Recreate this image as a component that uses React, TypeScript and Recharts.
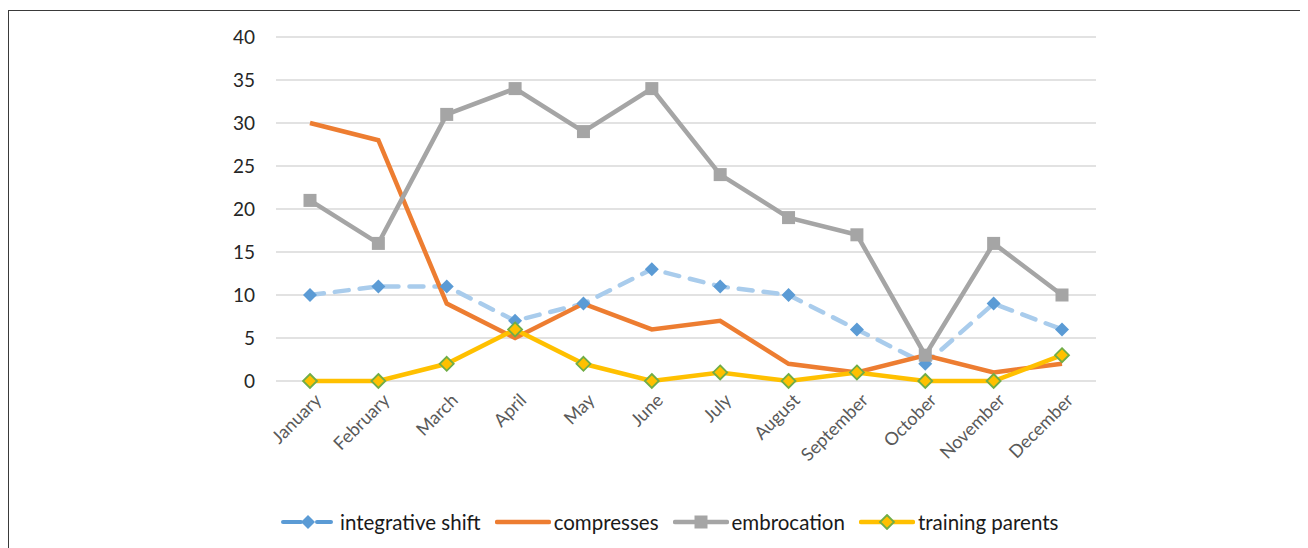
import React from "react";
import { CartesianGrid, Line, LineChart, XAxis, YAxis } from "recharts";

const months = [
  "January", "February", "March", "April", "May", "June",
  "July", "August", "September", "October", "November", "December",
];
const integrativeShift = [10, 11, 11, 7, 9, 13, 11, 10, 6, 2, 9, 6];
const compresses = [30, 28, 9, 5, 9, 6, 7, 2, 1, 3, 1, 2];
const embrocation = [21, 16, 31, 34, 29, 34, 24, 19, 17, 3, 16, 10];
const trainingParents = [0, 0, 2, 6, 2, 0, 1, 0, 1, 0, 0, 3];
const yTicks = [0, 5, 10, 15, 20, 25, 30, 35, 40];

const rows = months.map((m, i) => ({
  month: m,
  "integrative shift": integrativeShift[i],
  compresses: compresses[i],
  embrocation: embrocation[i],
  "training parents": trainingParents[i],
}));

const FONT = "Lato, 'Noto Sans', sans-serif";
const BLUE_LINE = "#A9CCEC";
const BLUE = "#5B9BD5";
const ORANGE = "#ED7D31";
const GREY = "#A5A5A5";
const YELLOW = "#FFC000";
const GREEN = "#70AD47";

const diamond = (cx: number, cy: number, r: number) =>
  `M${cx},${cy - r}L${cx + r},${cy}L${cx},${cy + r}L${cx - r},${cy}Z`;

function BlueDot(props: any) {
  const { cx, cy, index } = props;
  if (cx == null || cy == null) return <g key={`b${index}`} />;
  return <path key={`b${index}`} d={diamond(cx, cy, 7)} fill={BLUE} />;
}
function GreyDot(props: any) {
  const { cx, cy, index } = props;
  if (cx == null || cy == null) return <g key={`g${index}`} />;
  return <rect key={`g${index}`} x={cx - 6.5} y={cy - 6.5} width={13} height={13} fill={GREY} />;
}
function YellowDot(props: any) {
  const { cx, cy, index } = props;
  if (cx == null || cy == null) return <g key={`y${index}`} />;
  return <path key={`y${index}`} d={diamond(cx, cy, 7)} fill={YELLOW} stroke={GREEN} strokeWidth={1.8} />;
}

function MonthTick(props: any) {
  const { x, y, payload } = props;
  return (
    <g transform={`translate(${x + 8},${y + 8})`}>
      <text
        x={0}
        y={0}
        dy="0.35em"
        textAnchor="end"
        transform="rotate(-45)"
        fill="#595959"
        fontSize={18}
        fontFamily={FONT}
      >
        {payload.value}
      </text>
    </g>
  );
}

function LegendIcon({ kind }: { kind: string }) {
  const w = 56;
  return (
    <svg width={w} height={16} style={{ display: "block" }}>
      {kind === "integrative shift" && (
        <g>
          <line x1={2} y1={8} x2={20} y2={8} stroke={BLUE} strokeWidth={4} strokeLinecap="round" />
          <line x1={36} y1={8} x2={50} y2={8} stroke={BLUE} strokeWidth={4} strokeLinecap="round" />
          <path d={diamond(27, 8, 7)} fill={BLUE} />
        </g>
      )}
      {kind === "compresses" && (
        <line x1={2} y1={8} x2={w - 2} y2={8} stroke={ORANGE} strokeWidth={4.5} strokeLinecap="round" />
      )}
      {kind === "embrocation" && (
        <g>
          <line x1={2} y1={8} x2={w - 2} y2={8} stroke={GREY} strokeWidth={4.5} strokeLinecap="round" />
          <rect x={w / 2 - 6.5} y={1.5} width={13} height={13} fill={GREY} />
        </g>
      )}
      {kind === "training parents" && (
        <g>
          <line x1={2} y1={8} x2={w - 2} y2={8} stroke={YELLOW} strokeWidth={4.5} strokeLinecap="round" />
          <path d={diamond(w / 2, 8, 7)} fill={YELLOW} stroke={GREEN} strokeWidth={1.8} />
        </g>
      )}
    </svg>
  );
}

const seriesNames = ["integrative shift", "compresses", "embrocation", "training parents"];

export default function App() {
  return (
    <div
      style={{
        position: "relative",
        marginTop: 2,
        width: 1300,
        height: 538,
        borderTop: "1px solid #3a3a3a",
        borderLeft: "1px solid #3a3a3a",
        fontFamily: FONT,
        overflow: "hidden",
      }}
    >
      <LineChart
        width={1299}
        height={537}
        data={rows}
        margin={{ top: 26, right: 212, left: 0, bottom: 87 }}
      >
        <CartesianGrid vertical={false} stroke="#D9D9D9" strokeWidth={1.5} />
        <XAxis
          dataKey="month"
          axisLine={false}
          tickLine={false}
          interval={0}
          height={80}
          padding={{ left: 34, right: 34 }}
          tick={<MonthTick />}
        />
        <YAxis
          width={267}
          domain={[0, 40]}
          ticks={yTicks}
          axisLine={false}
          tickLine={false}
          tickMargin={15}
          tick={{ fill: "#262626", fontSize: 19, fontFamily: FONT }}
        />
        <Line
          dataKey="integrative shift"
          stroke={BLUE_LINE}
          strokeWidth={4.5}
          strokeDasharray="14 11"
          strokeLinecap="round"
          dot={<BlueDot />}
          activeDot={false}
          isAnimationActive={false}
        />
        <Line
          dataKey="compresses"
          stroke={ORANGE}
          strokeWidth={4.5}
          dot={false}
          activeDot={false}
          isAnimationActive={false}
        />
        <Line
          dataKey="embrocation"
          stroke={GREY}
          strokeWidth={4.5}
          dot={<GreyDot />}
          activeDot={false}
          isAnimationActive={false}
        />
        <Line
          dataKey="training parents"
          stroke={YELLOW}
          strokeWidth={4.5}
          dot={<YellowDot />}
          activeDot={false}
          isAnimationActive={false}
        />
      </LineChart>
      <div
        style={{
          position: "absolute",
          top: 499,
          left: 272,
          display: "flex",
          alignItems: "center",
          fontSize: 20.5,
          color: "#1a1a1a",
        }}
      >
        {seriesNames.map((n) => (
          <div key={n} style={{ display: "flex", alignItems: "center", marginRight: 14 }}>
            <LegendIcon kind={n} />
            <span style={{ marginLeft: 3 }}>{n}</span>
          </div>
        ))}
      </div>
    </div>
  );
}
